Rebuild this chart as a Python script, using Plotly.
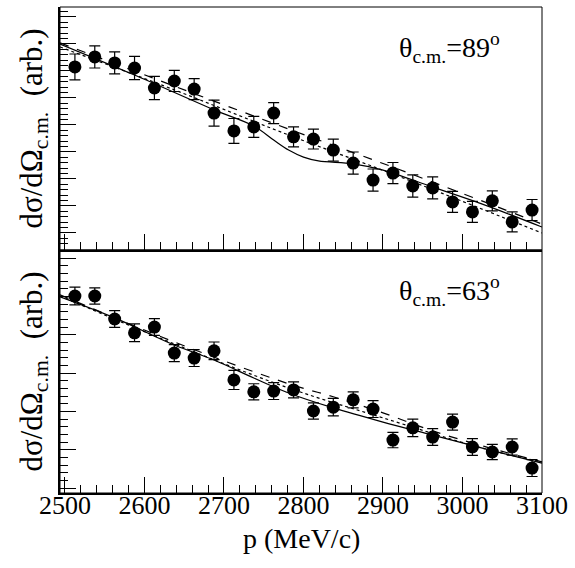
import plotly.graph_objects as go
from plotly.subplots import make_subplots

# ---- data ----
p_points = [2512.5, 2537.5, 2562.5, 2587.5, 2612.5, 2637.5, 2662.5, 2687.5,
            2712.5, 2737.5, 2762.5, 2787.5, 2812.5, 2837.5, 2862.5, 2887.5,
            2912.5, 2937.5, 2962.5, 2987.5, 3012.5, 3037.5, 3062.5, 3087.5]

# theta_cm = 89 deg (top panel), arbitrary units
y89 = [6.15, 6.52, 6.30, 6.11, 5.37, 5.63, 5.33, 4.44, 3.78, 3.93, 4.44, 3.56,
       3.48, 3.07, 2.59, 1.96, 2.22, 1.74, 1.67, 1.15, 0.78, 1.19, 0.41, 0.85]
e89 = [0.48, 0.41, 0.41, 0.43, 0.43, 0.39, 0.39, 0.48, 0.46, 0.39, 0.39, 0.37,
       0.37, 0.41, 0.41, 0.41, 0.39, 0.41, 0.41, 0.39, 0.39, 0.37, 0.37, 0.39]

solid89_p = [2493.75, 2587.5, 2687.5, 2737.5, 2762.5, 2781.25, 2800, 2818.75,
             2862.5, 2900, 2962.5, 3025, 3100]
solid89_y = [7.00, 5.85, 4.56, 3.96, 3.44, 3.07, 2.81, 2.67, 2.56, 2.33, 1.70,
             1.07, 0.22]
dash89_p = [2493.75, 2637.5, 2781.25, 2918.75, 3100]
dash89_y = [7.04, 5.44, 3.85, 2.37, 0.33]
dot89_p = [2493.75, 2637.5, 2781.25, 2918.75, 3100]
dot89_y = [6.89, 5.30, 3.63, 2.11, 0.00]

# theta_cm = 63 deg (bottom panel), arbitrary units
y63 = [5.01, 5.01, 4.41, 4.05, 4.20, 3.52, 3.39, 3.58, 2.82, 2.51, 2.53, 2.56,
       2.01, 2.11, 2.30, 2.06, 1.25, 1.57, 1.33, 1.72, 1.07, 0.94, 1.07, 0.52]
e63 = [0.23, 0.21, 0.22, 0.23, 0.22, 0.22, 0.22, 0.23, 0.25, 0.21, 0.22, 0.21,
       0.21, 0.23, 0.21, 0.22, 0.20, 0.23, 0.22, 0.21, 0.22, 0.20, 0.21, 0.22]

solid63_p = [2493.75, 2562.5, 2637.5, 2687.5, 2737.5, 2781.25, 2837.5, 2900,
             2962.5, 3025, 3100]
solid63_y = [4.99, 4.44, 3.73, 3.34, 2.87, 2.48, 2.09, 1.72, 1.38, 1.04, 0.65]
dash63_p = [2493.75, 2637.5, 2781.25, 2837.5, 2900, 2962.5, 3025, 3100]
dash63_y = [5.04, 3.81, 2.72, 2.38, 1.96, 1.49, 1.10, 0.68]
dot63_p = [2493.75, 2637.5, 2781.25, 2900, 3025, 3100]
dot63_y = [5.01, 3.76, 2.61, 1.83, 1.04, 0.68]

x_ticks = [2500, 2600, 2700, 2800, 2900, 3000, 3100]
panel_labels = ["θ<sub>c.m.</sub>=89<sup>o</sup>", "θ<sub>c.m.</sub>=63<sup>o</sup>"]
y_title = "dσ/dΩ<sub>c.m.</sub>  (arb.)"
x_title = "p (MeV/c)"

FONT = "Liberation Serif"

fig = make_subplots(rows=2, cols=1, shared_xaxes=True, vertical_spacing=0)


def add_panel(row, yv, ev, curves):
    for (px, py, dash) in curves:
        fig.add_trace(go.Scatter(x=px, y=py, mode="lines",
                                 line=dict(color="black", width=1.2, dash=dash, shape="spline"),
                                 showlegend=False, hoverinfo="skip"), row=row, col=1)
    fig.add_trace(go.Scatter(x=p_points, y=yv, mode="markers",
                             marker=dict(color="black", size=13, symbol="circle"),
                             error_y=dict(type="data", array=ev, color="black",
                                          thickness=1.2, width=5.5),
                             showlegend=False), row=row, col=1)


add_panel(1, y89, e89, [(solid89_p, solid89_y, "solid"),
                        (dash89_p, dash89_y, "dash"),
                        (dot89_p, dot89_y, "dot")])
add_panel(2, y63, e63, [(solid63_p, solid63_y, "solid"),
                        (dash63_p, dash63_y, "dash"),
                        (dot63_p, dot63_y, "dot")])

xcommon = dict(range=[2493.75, 3100], tickmode="array", tickvals=x_ticks,
               ticks="inside", ticklen=16, tickwidth=1, tickcolor="black",
               minor=dict(ticks="inside", ticklen=8, dtick=20, tick0=2500,
                          tickcolor="black", tickwidth=1),
               showline=True, linecolor="black", linewidth=2, mirror=False,
               showgrid=False, zeroline=False)

fig.update_xaxes(**xcommon)
fig.update_xaxes(showticklabels=False, row=1, col=1)
fig.update_xaxes(showticklabels=True, tickfont=dict(family=FONT, size=26, color="black"),
                 ticklabelstandoff=-12, row=2, col=1)

ycommon = dict(ticks="inside", ticklen=16, tickwidth=1, tickcolor="black",
               showticklabels=False, dtick=1, tick0=0,
               minor=dict(ticks="inside", ticklen=8, dtick=0.2, tickcolor="black",
                          tickwidth=1),
               showline=True, linecolor="black", linewidth=2, mirror=False,
               showgrid=False, zeroline=False)
fig.update_yaxes(**ycommon)
fig.update_yaxes(range=[-0.63, 8.37], row=1, col=1)
fig.update_yaxes(range=[-0.13, 6.21], row=2, col=1)

# thin frame around each panel
for xr, yr in [("x", "y"), ("x2", "y2")]:
    fig.add_shape(type="rect", xref=xr + " domain", yref=yr + " domain",
                  x0=0, x1=1, y0=0, y1=1, line=dict(color="black", width=1),
                  layer="above")

# x title
fig.add_annotation(text=x_title, xref="paper", yref="paper", x=0.5, y=-0.094,
                   xanchor="center", yanchor="middle", showarrow=False,
                   font=dict(family=FONT, size=28, color="black"))

# panel labels
fig.add_annotation(text=panel_labels[0], xref="paper", yref="paper", x=0.70, y=0.96,
                   xanchor="left", yanchor="top", showarrow=False,
                   font=dict(family=FONT, size=28, color="black"))
fig.add_annotation(text=panel_labels[1], xref="paper", yref="paper", x=0.70, y=0.46,
                   xanchor="left", yanchor="top", showarrow=False,
                   font=dict(family=FONT, size=28, color="black"))

# y titles
for yc in [0.75, 0.25]:
    fig.add_annotation(text=y_title, xref="paper", yref="paper", x=-0.056, y=yc,
                       xanchor="center", yanchor="middle", textangle=-90,
                       showarrow=False, font=dict(family=FONT, size=31, color="black"))

fig.update_layout(width=575, height=568, margin=dict(l=60, r=30, t=7, b=75),
                  plot_bgcolor="white", paper_bgcolor="white")

fig.write_html("out.html", config={"displayModeBar": False},
               post_script="document.body.style.margin='0px';")
